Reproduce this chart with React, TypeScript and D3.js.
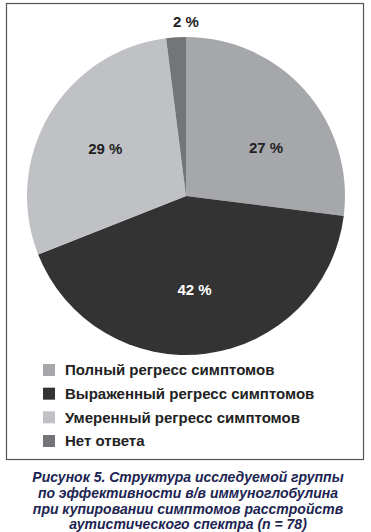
import React, { useEffect, useRef } from "react";
import * as d3 from "d3";

const categories = [
  "Полный регресс симптомов",
  "Выраженный регресс симптомов",
  "Умеренный регресс симптомов",
  "Нет ответа",
];
const values = [27, 42, 29, 2];
const colors = ["#a6a7aa", "#333333", "#c0c1c4", "#747578"];
const labelColors = ["#222", "#fff", "#222", "#222"];
// label angle nudge in degrees (labels were hand-placed in the original)
const labelNudge = [10, 2, 0, 0];
const caption = [
  "Рисунок 5. Структура исследуемой группы",
  "по эффективности в/в иммуноглобулина",
  "при купировании симптомов расстройств",
  "аутистического спектра (n = 78)",
];

export default function App() {
  const svgRef = useRef<SVGSVGElement>(null);

  useEffect(() => {
    const w = 371;
    const h = 532;
    const svg = d3.select(svgRef.current).attr("width", w).attr("height", h);
    svg.selectAll("*").remove();

    svg.append("rect").attr("width", w).attr("height", h).attr("fill", "#fff");

    // frame
    svg
      .append("rect")
      .attr("x", 6.5)
      .attr("y", 3.5)
      .attr("width", 357)
      .attr("height", 456)
      .attr("fill", "none")
      .attr("stroke", "#555")
      .attr("stroke-width", 1.2);

    const cx = 186;
    const cy = 196;
    const r = 159;

    const pie = d3.pie<number>().sort(null).value((d) => d);
    const arcs = pie(values);
    const arc = d3.arc<d3.PieArcDatum<number>>().innerRadius(0).outerRadius(r);

    const g = svg.append("g").attr("transform", `translate(${cx},${cy})`);
    g.selectAll("path")
      .data(arcs)
      .join("path")
      .attr("d", arc)
      .attr("fill", (d, i) => colors[i]);

    const font = "Liberation Sans, Arial, sans-serif";

    g.selectAll("text.lbl")
      .data(arcs)
      .join("text")
      .attr("class", "lbl")
      .attr("transform", (d, i) => {
        const small = d.data < 5;
        const rr = small ? r + 16 : r * 0.59;
        const a = (d.startAngle + d.endAngle) / 2 + (labelNudge[i] * Math.PI) / 180;
        const x = small ? 0 : rr * Math.sin(a);
        const y = -rr * Math.cos(a);
        return `translate(${x},${y})`;
      })
      .attr("text-anchor", "middle")
      .attr("dy", "0.36em")
      .attr("font-family", font)
      .attr("font-weight", "bold")
      .attr("font-size", 15)
      .attr("fill", (d, i) => labelColors[i])
      .text((d) => `${d.data} %`);

    // legend
    const legendY = d3.scalePoint<string>().domain(categories).range([370, 441]);
    const lg = svg.append("g");
    categories.forEach((c, i) => {
      const y = legendY(c) as number;
      lg.append("rect")
        .attr("x", 43)
        .attr("y", y - 6)
        .attr("width", 12)
        .attr("height", 12)
        .attr("fill", colors[i]);
      lg.append("text")
        .attr("x", 65)
        .attr("y", y)
        .attr("dy", "0.36em")
        .attr("font-family", font)
        .attr("font-weight", "bold")
        .attr("font-size", 15)
        .attr("fill", "#222")
        .text(c);
    });

    svg
      .append("g")
      .selectAll("text")
      .data(caption)
      .join("text")
      .attr("x", 188)
      .attr("y", (d, i) => 482 + i * 15.8)
      .attr("text-anchor", "middle")
      .attr("font-family", font)
      .attr("font-weight", "bold")
      .attr("font-style", "italic")
      .attr("font-size", 14)
      .attr("fill", "#1c2452")
      .text((d) => d);
  }, []);

  return (
    <div style={{ position: "absolute", left: 0, top: 0 }}>
      <svg ref={svgRef} style={{ display: "block" }}></svg>
    </div>
  );
}
